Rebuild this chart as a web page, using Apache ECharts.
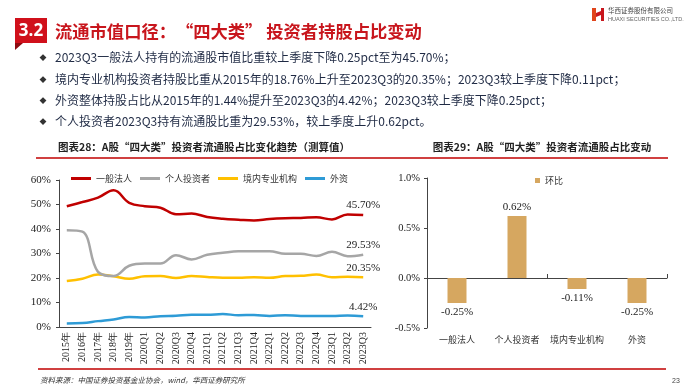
<!DOCTYPE html>
<html><head><meta charset="utf-8">
<script src="https://cdn.jsdelivr.net/npm/echarts@6/dist/echarts.min.js"></script>
<style>html,body{margin:0;padding:0;background:#fff}#c{width:700px;height:392px}</style>
</head><body><div id="c"></div>
<script>
const periods = ['2015年','2016年','2017年','2018年','2019年','2020Q1','2020Q2','2020Q3','2020Q4','2021Q1','2021Q2','2021Q3','2021Q4','2022Q1','2022Q2','2022Q3','2022Q4','2023Q1','2023Q2','2023Q3'];
const corporate  = [49.3,51.0,52.8,55.8,50.7,49.3,48.7,46.0,46.3,44.9,44.2,43.8,43.5,44.1,44.4,44.5,44.8,43.9,45.95,45.70];
const individual = [39.5,38.9,22.5,20.8,25.0,25.9,25.9,29.3,27.6,29.5,30.3,30.9,30.9,30.9,29.9,29.9,29.0,30.7,28.91,29.53];
const domestic   = [18.76,19.7,21.4,20.7,19.7,20.7,20.8,20.0,20.8,20.4,20.1,20.1,20.3,20.1,20.8,20.9,21.4,20.3,20.46,20.35];
const foreignCap = [1.44,1.6,2.4,3.1,4.1,3.9,4.4,4.6,5.0,5.0,5.3,4.8,4.9,4.5,4.8,4.5,4.5,4.5,4.67,4.42];
const lineNames = ['一般法人','个人投资者','境内专业机构','外资'];
const investorTypes = ['一般法人','个人投资者','境内专业机构','外资'];
const qoqChange = [-0.25,0.62,-0.11,-0.25];
const bullets = [
  '2023Q3一般法人持有的流通股市值比重较上季度下降0.25pct至为45.70%；',
  '境内专业机构投资者持股比重从2015年的18.76%上升至2023Q3的20.35%；2023Q3较上季度下降0.11pct；',
  '外资整体持股占比从2015年的1.44%提升至2023Q3的4.42%；2023Q3较上季度下降0.25pct；',
  '个人投资者2023Q3持有流通股比重为29.53%，较上季度上升0.62pct。'
];

const CJK = '"Noto Sans CJK SC", sans-serif';
const SERIF = '"Liberation Serif", "DejaVu Serif", serif';
const lineColors = ['#C00000','#A6A6A6','#FFC000','#2E9BD6'];
const lineData = [corporate, individual, domestic, foreignCap];

function lastLabelData(arr){
  return arr.map((v,i)=> i===arr.length-1 ? {value:v, label:{show:true, position:'top', distance:4,
    formatter: v.toFixed(2)+'%', fontFamily:SERIF, fontSize:11, color:'#222'}} : v);
}

const chart = echarts.init(document.getElementById('c'), null, {renderer:'canvas'});

const graphics = [];
graphics.push({type:'rect', shape:{x:15,y:18,width:32,height:25}, style:{fill:'#D0101B'}});
graphics.push({type:'polygon', shape:{points:[[15,43],[23,43],[15,50]]}, style:{fill:'#8E0A10'}});
graphics.push({type:'text', style:{x:31,y:31,text:'3.2',fill:'#fff',font:'bold 17px "Open Sans", sans-serif',align:'center',verticalAlign:'middle'}});
graphics.push({type:'text', style:{x:55,y:31,text:'流通市值口径：“四大类” 投资者持股占比变动',fill:'#C8161D',font:'bold 17.3px '+CJK,verticalAlign:'middle'}});
graphics.push({type:'polygon', shape:{points:[[592,8],[596,8],[596,21],[592,21]]}, style:{fill:'#E0451B'}});
graphics.push({type:'polygon', shape:{points:[[596,13],[601,11],[601,8],[604,8],[604,21],[601,21],[601,15],[596,17]]}, style:{fill:'#C8161D'}});
graphics.push({type:'text', style:{x:608,y:11,text:'华西证券股份有限公司',fill:'#444',font:'6.5px '+CJK,verticalAlign:'middle'}});
graphics.push({type:'text', style:{x:608,y:19,text:'HUAXI SECURITIES CO.,LTD.',fill:'#666',font:'5.5px "Liberation Sans", sans-serif',verticalAlign:'middle'}});
const bulletY = [57,79,100,121];
bullets.forEach((t,i)=>{
  graphics.push({type:'text', style:{x:43,y:bulletY[i],text:'◆',fill:'#333',font:'7px '+CJK,align:'center',verticalAlign:'middle'}});
  graphics.push({type:'text', style:{x:55,y:bulletY[i],text:t,fill:'#1F2A44',font:'12px '+CJK,verticalAlign:'middle'}});
});
graphics.push({type:'text', style:{x:204,y:147,text:'图表28：A股“四大类”投资者流通股占比变化趋势（测算值）',fill:'#222',font:'bold 10.5px '+CJK,align:'center',verticalAlign:'middle'}});
graphics.push({type:'text', style:{x:542,y:147,text:'图表29：A股“四大类”投资者流通股占比变动',fill:'#222',font:'bold 10.5px '+CJK,align:'center',verticalAlign:'middle'}});
graphics.push({type:'line', shape:{x1:36,y1:158,x2:668,y2:158}, style:{stroke:'#C00000',lineWidth:1.5}});
graphics.push({type:'line', shape:{x1:38,y1:369,x2:666,y2:369}, style:{stroke:'#C00000',lineWidth:1.5}});
graphics.push({type:'text', style:{x:40,y:380,text:'资料来源：中国证券投资基金业协会，wind，华西证券研究所',fill:'#333',font:'italic 7.5px '+CJK,verticalAlign:'middle'}});
graphics.push({type:'text', style:{x:672,y:381,text:'23',fill:'#444',font:'7px "Liberation Sans", sans-serif',verticalAlign:'middle'}});

const option = {
  animation:false,
  backgroundColor:'#fff',
  graphic: graphics,
  legend:[{
    left:66, top:169, itemWidth:20, itemHeight:3, itemGap:8, icon:'rect',
    data: lineNames,
    textStyle:{fontFamily:CJK, fontSize:9, color:'#333'}
  },{
    left:530, top:171, itemWidth:5, itemHeight:5, itemGap:8, icon:'rect',
    data:['环比'],
    textStyle:{fontFamily:CJK, fontSize:9, color:'#333'}
  }],
  grid:[
    {left:59, top:180, width:312, height:147},
    {left:427, top:178, width:240, height:150}
  ],
  xAxis:[
    {type:'category', gridIndex:0, data:periods, boundaryGap:true,
     axisLine:{lineStyle:{color:'#444'}}, axisTick:{length:3,lineStyle:{color:'#444'}},
     axisLabel:{rotate:90, interval:0, fontFamily:SERIF, fontSize:10, color:'#222', margin:5}},
    {type:'category', gridIndex:1, data:investorTypes, position:'bottom',
     axisLine:{show:false, onZero:false}, axisTick:{show:false},
     axisLabel:{interval:0, fontFamily:CJK, fontSize:9, color:'#333', margin:7}},
    {type:'category', gridIndex:1, data:investorTypes,
     axisLine:{show:true, onZero:true, lineStyle:{color:'#444'}}, axisTick:{show:true,length:4,lineStyle:{color:'#444'}},
     axisLabel:{show:false}}
  ],
  yAxis:[
    {type:'value', gridIndex:0, min:0, max:60, interval:10,
     axisLine:{show:true, lineStyle:{color:'#444'}}, axisTick:{show:true,length:3,lineStyle:{color:'#444'}},
     splitLine:{show:false},
     axisLabel:{formatter:'{value}%', fontFamily:SERIF, fontSize:11, color:'#222', margin:8}},
    {type:'value', gridIndex:1, min:-0.5, max:1.0, interval:0.5,
     axisLine:{show:true, lineStyle:{color:'#444'}}, axisTick:{show:true,length:3,lineStyle:{color:'#444'}},
     splitLine:{show:false},
     axisLabel:{formatter:v=>v.toFixed(1)+'%', fontFamily:SERIF, fontSize:10.5, color:'#222', margin:7}}
  ],
  series: [
    ...lineNames.map((n,k)=>({
      name:n, type:'line', xAxisIndex:0, yAxisIndex:0, smooth:0.4,
      symbol:'circle', symbolSize:0, showSymbol:true,
      data: lastLabelData(lineData[k]),
      lineStyle:{color:lineColors[k], width:2.5}, itemStyle:{color:lineColors[k]}, z: 10-k
    })),
    {name:'环比', type:'bar', xAxisIndex:1, yAxisIndex:1, barWidth:19,
     itemStyle:{color:'#D6A760'},
     data: qoqChange.map(v=> v<0 ? {value:v, label:{position:'bottom', distance:4}} : v),
     label:{show:true, position:'top', distance:3, formatter:p=>p.value.toFixed(2)+'%',
       fontFamily:SERIF, fontSize:11, color:'#222'}}
  ]
};
chart.setOption(option);
</script></body></html>
